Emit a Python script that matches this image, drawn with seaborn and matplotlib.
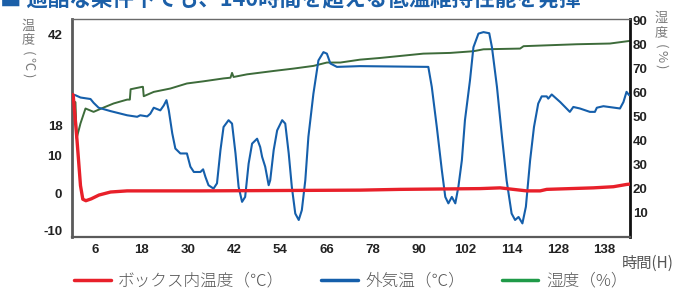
import matplotlib
matplotlib.use("Agg")
import matplotlib.pyplot as plt
from matplotlib.lines import Line2D
from matplotlib.font_manager import FontProperties
import seaborn as sns

# ---- data ----
red_h = [0.0, 0.3, 1.3, 2.2, 2.8, 3.6, 5.0, 7.0, 10.0, 14.3, 33.3, 74.7, 85.1, 105.8,
         111.0, 112.7, 117.9, 121.4, 123.1, 135.2, 140.4, 143.8, 144.7]
red_t = [26.1, 26.0, 14.0, 2.0, -1.6, -2.0, -1.5, -0.5, 0.3, 0.6, 0.6, 0.8, 1.0, 1.2,
         1.4, 1.2, 0.6, 0.6, 1.0, 1.4, 1.7, 2.3, 2.4]

blue_h = [0.1, 0.9, 2.2, 4.8, 5.6, 6.9, 10.0, 14.3, 16.9, 17.7,
          19.5, 20.3, 21.2, 22.9, 23.8, 24.5, 25.1, 26.0, 26.8, 28.1,
          29.8, 30.7, 31.6, 33.3, 34.0, 34.6, 35.4, 36.7, 37.6, 38.5,
          39.3, 40.6, 41.5, 42.4, 43.2, 44.1, 44.9, 45.8, 46.7, 48.0,
          48.8, 49.3, 50.1, 51.0, 51.4, 52.3, 53.2, 54.5, 55.3, 56.2,
          57.0, 57.9, 58.8, 59.6, 60.5, 61.3, 62.6, 63.9, 65.2, 66.1,
          67.0, 68.7, 74.7, 83.4, 92.4, 93.3, 94.6, 95.9, 96.8, 97.6,
          98.5, 99.4, 100.2, 101.1, 101.9, 103.2, 104.1, 105.4, 106.7, 108.2,
          108.9, 110.2, 111.5, 112.7, 114.0, 114.9, 115.8, 116.8, 117.7, 118.8,
          119.8, 120.9, 121.8, 123.1, 123.5, 124.4, 126.6, 129.1, 130.0, 131.7,
          134.3, 135.6, 136.1, 137.8, 142.1, 143.0, 143.8, 144.5]
blue_t = [26.1, 25.9, 25.3, 24.9, 23.9, 22.6, 21.7, 20.6, 20.2, 20.6,
          20.3, 21.0, 22.6, 21.9, 23.2, 24.6, 21.9, 15.8, 11.8, 10.5,
          10.5, 7.0, 5.6, 5.6, 6.3, 4.3, 2.1, 1.2, 2.6, 11.4,
          17.5, 19.3, 18.4, 10.5, 1.7, -2.3, -1.0, 7.8, 13.1, 14.4,
          12.2, 9.6, 7.0, 2.1, 3.4, 11.4, 16.6, 19.3, 18.4, 10.5,
          1.7, -5.4, -7.1, -4.5, 3.4, 14.9, 26.3, 35.1, 37.3, 36.9,
          34.3, 33.4, 33.6, 33.5, 33.4, 28.1, 17.5, 6.1, -1.0, -2.7,
          -1.0, -2.7, 1.7, 8.7, 19.3, 29.8, 38.6, 42.2, 42.6, 42.3,
          38.6, 28.1, 14.9, 3.4, -5.4, -7.1, -6.3, -8.0, -3.6, 8.7,
          17.5, 23.7, 25.6, 25.6, 25.0, 26.1, 24.1, 21.5, 22.8, 22.4,
          21.5, 21.5, 22.6, 23.0, 22.4, 24.1, 26.8, 25.9]

green_h = [0.1, 0.9, 1.2, 2.2, 3.5, 5.6, 8.2, 10.8, 14.3, 15.0,
           15.2, 18.2, 18.4, 18.6, 21.2, 25.5, 29.8, 34.1, 39.3, 41.1,
           41.5, 41.9, 45.4, 52.3, 57.5, 62.6, 66.1, 69.6, 74.7, 79.9,
           91.1, 98.1, 104.1, 106.7, 116.2, 117.1, 130.9, 139.5, 144.7]
green_v = [56.8, 56.0, 41.0, 47.2, 53.4, 52.0, 53.8, 55.5, 57.1, 57.1,
           61.4, 62.4, 62.4, 58.5, 60.3, 61.7, 63.8, 64.7, 65.9, 66.2,
           68.2, 66.5, 67.6, 69.0, 70.0, 71.1, 72.5, 72.5, 73.7, 74.4,
           76.2, 76.5, 77.2, 78.0, 78.3, 79.3, 80.1, 80.4, 81.5]

x_tick_pos = [6, 18, 30, 42, 54, 66, 78, 90, 102, 114, 126, 138]
x_tick_labels = ["6", "18", "30", "42", "54", "66", "78", "90", "102", "114", "128", "138"]
left_ticks = [-10, 0, 10, 18, 42]
right_ticks = [10, 20, 30, 40, 50, 60, 70, 80, 90]

series_names = ["ボックス内温度（℃）", "外気温（℃）", "湿度（%）"]
title_text = "■ 過酷な条件下でも、140時間を超える低温維持性能を発揮"

# ---- style ----
sns.set_theme(style="white")
plt.rcParams["font.family"] = ["Noto Sans CJK JP", "DejaVu Sans"]

RED = "#e8202a"
BLUE = "#155fab"
GREEN_LINE = "#3d6b3a"
GREEN_LEG = "#1f9a48"
GRAY_TXT = "#555555"
BG = "#e6e7e8"

fig = plt.figure(figsize=(6.74, 2.89), dpi=100)
ax = fig.add_axes([72 / 674, 1 - 237 / 289, (630 - 72) / 674, (237 - 18.5) / 289])
ax2 = ax.twinx()
ax.set_zorder(2)
ax2.set_zorder(1)
ax.patch.set_visible(False)
ax2.patch.set_facecolor(BG)

sns.lineplot(x=green_h, y=green_v, ax=ax2, color=GREEN_LINE, linewidth=1.4,
             estimator=None, sort=False)
sns.lineplot(x=blue_h, y=blue_t, ax=ax, color=BLUE, linewidth=1.5,
             estimator=None, sort=False)
sns.lineplot(x=red_h, y=red_t, ax=ax, color=RED, linewidth=2.4,
             estimator=None, sort=False)

ax.set_xlim(0, 144.7)
ax.set_ylim(-11.6, 46.2)
ax2.set_ylim(0, 90.8)

tick_font = dict(family=["Liberation Sans", "DejaVu Sans"], weight="bold", size=9.5)
ax.set_xticks(x_tick_pos)
ax.set_xticklabels(x_tick_labels, **tick_font, color="#222222")
ax.set_yticks(left_ticks)
ax.set_yticklabels([str(v) for v in left_ticks], **tick_font, color="#222222")
ax2.set_yticks(right_ticks)
ax2.set_yticklabels([str(v) for v in right_ticks], **tick_font, color="#222222")
ax.tick_params(axis="x", length=0, pad=5)
ax.tick_params(axis="y", length=0, pad=7)
ax2.tick_params(axis="y", length=0, pad=2)
ax.set_xlabel("")
ax.set_ylabel("")
ax2.set_ylabel("")

for a in (ax, ax2):
    for s in a.spines.values():
        s.set_visible(False)
ax2.spines["left"].set_visible(True)
ax2.spines["left"].set_color("#5a5a5a")
ax2.spines["left"].set_linewidth(2)
ax2.spines["bottom"].set_visible(True)
ax2.spines["bottom"].set_color("#5a5a5a")
ax2.spines["bottom"].set_linewidth(1.6)
ax2.spines["top"].set_visible(True)
ax2.spines["top"].set_color("#6a6a6a")
ax2.spines["top"].set_linewidth(1.0)
ax2.spines["right"].set_visible(True)
ax2.spines["right"].set_color("#111111")
ax2.spines["right"].set_linewidth(2)


def px(x, y):
    return x / 674, 1 - y / 289


# vertical axis titles, stacked like vertical Japanese writing
lab_kw = dict(color="#7a7a7a", fontsize=9.5, ha="center", va="center")
fig.text(*px(28, 26), "温", **lab_kw)
fig.text(*px(28, 40), "度", **lab_kw)
fig.text(*px(28, 53), "(", rotation=270, **lab_kw)
fig.text(*px(28, 64), "℃", rotation=270, **lab_kw)
fig.text(*px(28, 75), ")", rotation=270, **lab_kw)
fig.text(*px(661, 18), "湿", **lab_kw)
fig.text(*px(661, 33), "度", **lab_kw)
fig.text(*px(661, 46), "(", rotation=270, **lab_kw)
fig.text(*px(661, 56), "%", rotation=270, **lab_kw)
fig.text(*px(661, 66), ")", rotation=270, **lab_kw)

fig.text(*px(674, 263), "時間(H)", color=GRAY_TXT, fontsize=11, ha="right", va="center")

# clipped headline at top
fig.text(*px(0, 5), title_text, color="#1b5fa8", fontsize=15.5, weight="bold",
         ha="left", va="baseline")

handles = [Line2D([0], [0], color=RED, lw=2.5),
           Line2D([0], [0], color=BLUE, lw=2.5),
           Line2D([0], [0], color=GREEN_LEG, lw=2.5)]
leg_prop = FontProperties(family=["Noto Sans CJK JP", "DejaVu Sans"], size=12, weight="light")
fig.legend(handles, series_names, loc="center left", bbox_to_anchor=(74 / 674, 1 - 281 / 289),
           ncol=3, frameon=False, prop=leg_prop, handlelength=2.2, handletextpad=0.45,
           columnspacing=2.2, labelcolor=GRAY_TXT, borderaxespad=0, borderpad=0)

fig.savefig("out.png", dpi=100)
